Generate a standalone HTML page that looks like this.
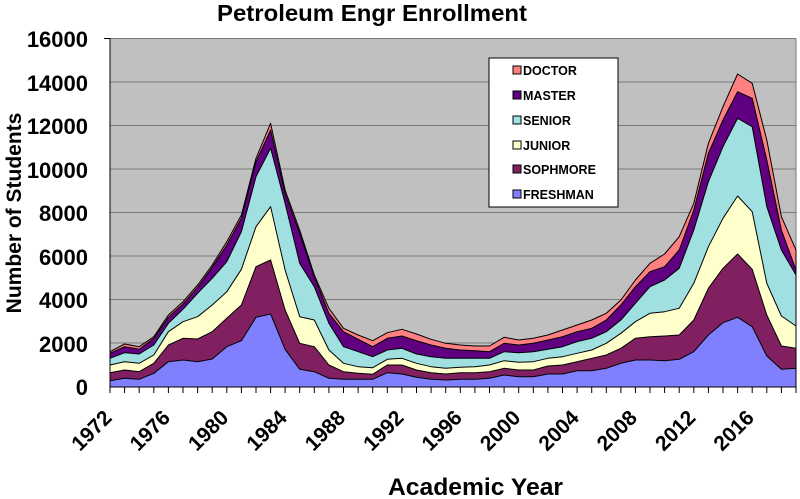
<!DOCTYPE html>
<html><head><meta charset="utf-8"><style>
body{margin:0;background:#fff;}
svg{display:block;font-family:"Liberation Sans",Arial,sans-serif;font-weight:bold;}
</style></head><body>
<svg id="s" width="800" height="499" viewBox="0 0 800 499" xmlns="http://www.w3.org/2000/svg">
<rect x="110" y="38.5" width="686" height="348.5" fill="#C0C0C0"/>
<g stroke="#7a7a7a" stroke-width="1">
<line x1="110" y1="82" x2="796" y2="82"/><line x1="110" y1="125.5" x2="796" y2="125.5"/>
<line x1="110" y1="169" x2="796" y2="169"/><line x1="110" y1="212.5" x2="796" y2="212.5"/>
<line x1="110" y1="256" x2="796" y2="256"/><line x1="110" y1="299.5" x2="796" y2="299.5"/>
<line x1="110" y1="343" x2="796" y2="343"/>
</g>
<line x1="110" y1="38.5" x2="796" y2="38.5" stroke="#7a7a7a"/>
<line x1="796" y1="38.5" x2="796" y2="387" stroke="#7a7a7a"/>
<g id="areas"></g>
<line x1="110" y1="38" x2="110" y2="387" stroke="#000"/>
<line x1="110" y1="387" x2="796" y2="387" stroke="#000"/>
<line x1="104" y1="38.5" x2="110" y2="38.5" stroke="#000"/>
<g id="ticks" stroke="#000"></g>
<g font-size="22" text-anchor="end" fill="#000">
<text x="88" y="47">16000</text><text x="88" y="91">14000</text><text x="88" y="134">12000</text>
<text x="88" y="178">10000</text><text x="88" y="221">8000</text><text x="88" y="265">6000</text>
<text x="88" y="308">4000</text><text x="88" y="352">2000</text><text x="88" y="395">0</text>
</g>
<g id="xl" font-size="21" text-anchor="end"></g>
<text x="217" y="21" font-size="23" textLength="310" lengthAdjust="spacingAndGlyphs">Petroleum Engr Enrollment</text>
<text transform="translate(21,213) rotate(-90)" font-size="21" text-anchor="middle">Number of Students</text>
<text x="388" y="495" font-size="24" textLength="175" lengthAdjust="spacingAndGlyphs">Academic Year</text>
<rect x="489" y="58" width="129" height="149" fill="#fff" stroke="#000"/>
<g font-size="12.5">
<rect x="513" y="66" width="8" height="8" fill="#FF8080" stroke="#000"/><text x="523" y="75">DOCTOR</text>
<rect x="513" y="91" width="8" height="8" fill="#600080" stroke="#000"/><text x="523" y="100">MASTER</text>
<rect x="513" y="116" width="8" height="8" fill="#A0E0E0" stroke="#000"/><text x="523" y="125">SENIOR</text>
<rect x="513" y="141" width="8" height="8" fill="#FFFFCC" stroke="#000"/><text x="523" y="150">JUNIOR</text>
<rect x="513" y="165" width="8" height="8" fill="#802060" stroke="#000"/><text x="523" y="174">SOPHMORE</text>
<rect x="513" y="190" width="8" height="8" fill="#8080FF" stroke="#000"/><text x="523" y="199">FRESHMAN</text>
</g>
</svg>
<script>
var d=[[1052,1028,1005,985,970,965],[1045,1020,995,968,950,942],[1048,1025,1000,972,958,950],[1030,1000,975,945,925,920],
[995,945,905,880,862,855],[990,925,875,838,822,815],[995,927,860,790,772,765],[987,905,825,745,712,705],[950,865,785,695,645,635],
[932,825,718,605,565,555],[862,710,590,440,395,385],[852,690,530,355,300,280],[958,840,720,520,490,480],[1018,940,860,700,610,600],
[1025,950,870,770,740,735],[1045,1005,960,880,850,835],[1048,1025,1000,950,905,895],[1048,1030,1010,965,928,915],
[1048,1033,1013,980,950,932],[1028,1005,988,960,925,908],[1032,1005,985,955,918,898],[1042,1020,1000,972,932,912],
[1048,1028,1010,980,945,928],[1050,1032,1015,985,955,940],[1048,1028,1012,985,960,945],[1048,1028,1010,985,962,948],
[1045,1025,1005,985,965,948],[1035,1015,992,965,940,922],[1040,1020,997,968,945,930],[1040,1020,995,965,940,925],
[1032,1008,985,958,930,915],[1032,1005,980,950,920,900],[1022,995,970,935,905,885],[1022,985,960,925,895,870],
[1015,975,940,905,870,850],[1000,955,910,870,825,810],[990,925,875,820,770,750],[990,920,850,770,725,700],
[992,918,845,750,710,672],[988,915,835,715,660,620],[965,870,760,600,540,520],[915,775,650,455,370,340],
[878,715,565,350,270,230],[862,672,498,265,185,132],[890,718,545,290,205,160],[978,855,760,530,390,330],
[1018,948,858,660,600,560],[1015,955,888,735,720,660]];
var cols=["#8080FF","#802060","#FFFFCC","#A0E0E0","#600080","#FF8080"];
var n=d.length,sp=686/(n-1),g="";
function X(i){return (110+sp*i).toFixed(1);}
for(var k=5;k>=0;k--){var p=X(0)+",387 ";for(var i=0;i<n;i++)p+=X(i)+","+(30+d[i][k]/3).toFixed(1)+" ";p+=X(n-1)+",387";
g+='<polygon points="'+p+'" fill="'+cols[k]+'" stroke="#000" stroke-width="1" stroke-linejoin="round"/>';}
document.getElementById("areas").innerHTML=g;
var t="",xl="";
for(var i=0;i<n;i++){t+='<line x1="'+X(i)+'" y1="387" x2="'+X(i)+'" y2="393"/>';}
for(var i=0;i<n;i+=4){var x=+X(i)+3;xl+='<text transform="translate('+x+',419) rotate(-45)">'+(1972+i)+'</text>';}
document.getElementById("ticks").innerHTML=t;
document.getElementById("xl").innerHTML=xl;
</script>
</body></html>
